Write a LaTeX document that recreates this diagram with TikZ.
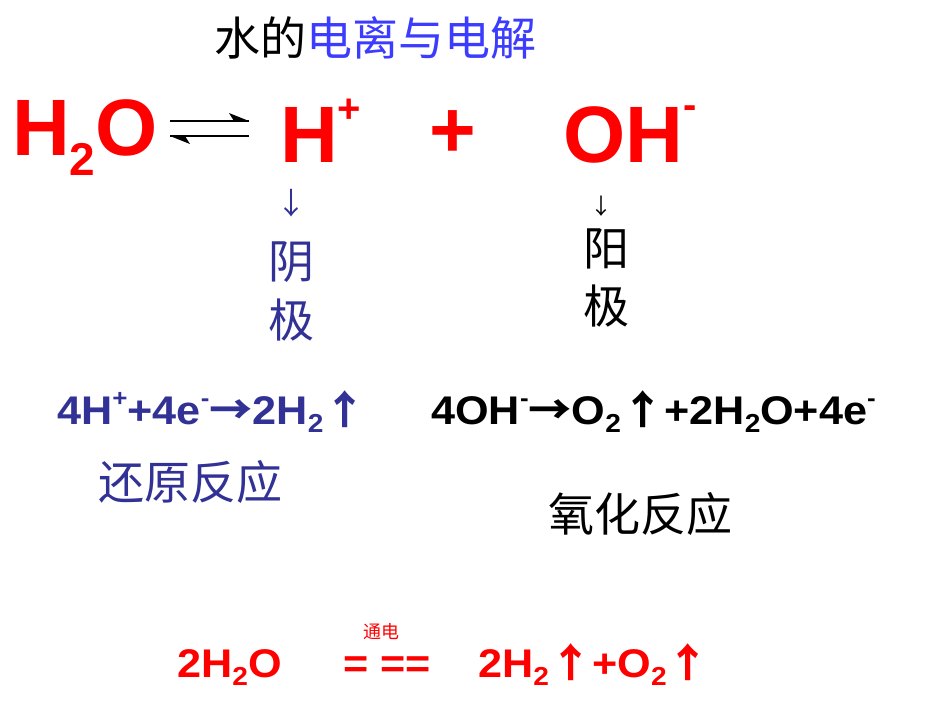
\documentclass[tikz,border=0pt]{standalone}
\usepackage{fontspec}
\setmainfont{Liberation Sans}
\newfontfamily\cjk{Noto Sans CJK SC}
\newcommand{\sbs}[1]{\raisebox{-0.2em}{\fontsize{26}{26}\selectfont #1}}
\newcommand{\sps}[1]{\raisebox{0.45em}{\fontsize{24}{24}\selectfont #1}}
\begin{document}
\begin{tikzpicture}[x=1pt,y=-1pt,
  big/.style={font=\fontsize{80}{80}\selectfont,text=red,inner sep=0pt},
  eq/.style={font=\fontsize{40}{40}\selectfont\bfseries,inner sep=0pt,xscale=1.08},
  cj/.style={font=\fontsize{46}{48}\selectfont\cjk,inner sep=0pt}]
\definecolor{myblue}{RGB}{50,50,150}
\definecolor{tblue}{RGB}{60,60,255}
\useasboundingbox (0,0) rectangle (950,713);
\node[cj] (title) at (375,38) {水的\textcolor{tblue}{电离与电解}};
\node[big,anchor=base west] (h2o) at (12,155) {\textbf{H}\raisebox{-0.25em}{\fontsize{46}{46}\selectfont\bfseries 2}\textbf{O}};
\coordinate (a1) at (170,121); \coordinate (a2) at (249,121);
\coordinate (b1) at (249,136); \coordinate (b2) at (170,136);
\draw[line width=1.2pt] (a1) -- (a2);
\fill (249,121) -- (229,113) -- (234,121) -- cycle;
\draw[line width=1.2pt] (a2 |- b1) -- (b2);
\fill (170,136) -- (190,144) -- (185,136) -- cycle;
\node[big,anchor=base west,font=\fontsize{80}{80}\selectfont\bfseries] (hp) at (280,162) {H\raisebox{0.5em}{\fontsize{40}{40}\selectfont +}};
\node[big,anchor=base,font=\fontsize{80}{80}\selectfont\bfseries] (plus) at (453,157) {+};
\node[big,anchor=base west,font=\fontsize{80}{80}\selectfont\bfseries] (oh) at (563,162) {OH\raisebox{0.55em}{\fontsize{40}{40}\selectfont -}};
\node[font=\fontsize{30}{30}\selectfont\cjk,text=myblue,inner sep=0pt] (ar1) at (291,203) {↓};
\node[cj,text=myblue] (yin1) at (291,262) {阴};
\node[cj,text=myblue] (yin2) at (291,320) {极};
\node[font=\fontsize{22}{22}\selectfont\cjk,inner sep=0pt] (ar2) at (601,206) {↓};
\node[cj] (yang1) at (606,249) {阳};
\node[cj] (yang2) at (606,306) {极};
\node[eq,text=myblue,anchor=base west] (cath) at (57,424) {4H\sps{+}+4e\sps{-}{\cjk →}2H\sbs{2}{\cjk ↑}};
\node[eq,anchor=base west] (anode) at (431,424) {4OH\sps{-}{\cjk →}O\sbs{2}{\cjk ↑}+2H\sbs{2}O+4e\sps{-}};
\node[cj,text=myblue] (red) at (190,482) {还原反应};
\node[cj] (ox) at (640,514) {氧化反应};
\node[eq,text=red,anchor=base west] (lhs) at (177,677) {2H\sbs{2}O};
\node[eq,text=red,anchor=base west] (eqs) at (343,677) {= ==};
\node[font=\fontsize{18}{18}\selectfont\cjk,text=red,inner sep=0pt] (tong) at (381,632) {通电};
\node[eq,text=red,anchor=base west] (rhs) at (478,677) {2H\sbs{2}{\cjk ↑}+O\sbs{2}{\cjk ↑}};
\end{tikzpicture}
\end{document}
